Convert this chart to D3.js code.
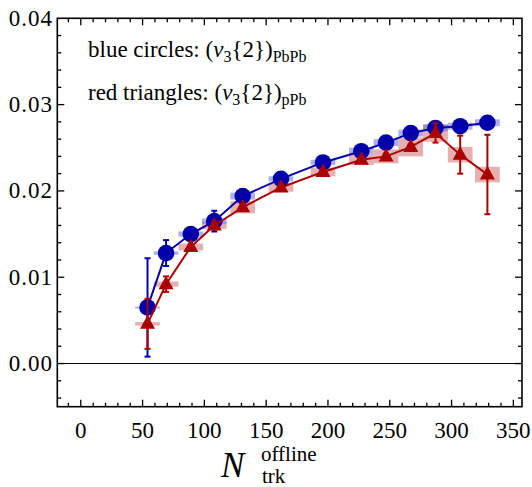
<!DOCTYPE html>
<html><head><meta charset="utf-8">
<script src="https://cdn.jsdelivr.net/npm/d3@7"></script>
</head>
<body style="margin:0">
<svg id="c" width="532" height="487"><style>text, tspan { font-family: 'Liberation Serif', 'Times New Roman', Tinos, FreeSerif !important; }</style></svg>
<script>
// ---- data ----
const nTrk = [54, 69, 89, 108, 131, 162, 196, 227, 247, 267, 287, 307, 329];
const pbpbV3 = [0.0065, 0.0128, 0.0150, 0.0165, 0.0194, 0.0214, 0.0233, 0.0246, 0.0256, 0.0267, 0.0273, 0.0275, 0.0279];
const pbpbStat = [0.0057, 0.0015, 0.0003, 0.0012, 0.0003, 0.0003, 0.0003, 0.0003, 0.0003, 0.0003, 0.0003, 0.0003, 0.0003];
const pbpbSys = [0.0001, 0.0002, 0.0003, 0.0003, 0.0004, 0.0003, 0.0003, 0.0004, 0.0004, 0.0004, 0.0004, 0.0004, 0.0004];
const ppbV3 = [0.0046, 0.0092, 0.0135, 0.0160, 0.0181, 0.0204, 0.0222, 0.0236, 0.0240, 0.0251, 0.0267, 0.0242, 0.0219];
const ppbStat = [0.0029, 0.0009, 0.0003, 0.0003, 0.0003, 0.0003, 0.0003, 0.0003, 0.0003, 0.0003, 0.0011, 0.0022, 0.0046];
const ppbSys = [0.0002, 0.0003, 0.0004, 0.0004, 0.0007, 0.0005, 0.0005, 0.0006, 0.0008, 0.0011, 0.0010, 0.0009, 0.0009];
const xTicks = [0, 50, 100, 150, 200, 250, 300, 350];
const yTicks = [0.00, 0.01, 0.02, 0.03, 0.04];

const FONT = "'Liberation Serif'";
const svg = d3.select("#c");
const L = 57.3, R = 522, T = 18.3, B = 406.7;
const x = d3.scaleLinear().domain([-19, 357]).range([L, R]);
const y = d3.scaleLinear().domain([-0.005, 0.04]).range([B, T]);
const BOXW = 10;
const blue = "#0000aa", red = "#aa0000";

svg.append("line").attr("x1", L).attr("x2", R).attr("y1", y(0)).attr("y2", y(0))
  .attr("stroke", "#000").attr("stroke-width", 1);

function boxes(vals, sys, fill, op) {
  svg.append("g").selectAll("rect").data(nTrk).join("rect")
    .attr("x", d => x(d - BOXW)).attr("width", d => x(d + BOXW) - x(d - BOXW))
    .attr("y", (d, i) => y(vals[i] + sys[i]))
    .attr("height", (d, i) => Math.max(2, y(vals[i] - sys[i]) - y(vals[i] + sys[i])))
    .attr("fill", fill).attr("opacity", op);
}
boxes(ppbV3, ppbSys, "rgb(200,80,80)", 0.45);
boxes(pbpbV3, pbpbSys, "rgb(90,100,220)", 0.5);

function series(vals, stat, color, shape) {
  const g = svg.append("g");
  const line = d3.line().x((d, i) => x(nTrk[i])).y(d => y(d));
  g.append("path").attr("d", line(vals)).attr("fill", "none").attr("stroke", color).attr("stroke-width", 2);
  const eb = g.append("g").attr("stroke", color).attr("stroke-width", 2);
  nTrk.forEach((n, i) => {
    const cx = x(n), y1 = y(vals[i] + stat[i]), y2 = y(vals[i] - stat[i]);
    eb.append("line").attr("x1", cx).attr("x2", cx).attr("y1", y1).attr("y2", y2);
    eb.append("line").attr("x1", cx - 3).attr("x2", cx + 3).attr("y1", y1).attr("y2", y1);
    eb.append("line").attr("x1", cx - 3).attr("x2", cx + 3).attr("y1", y2).attr("y2", y2);
  });
  g.selectAll("path.m").data(vals).join("path").attr("class", "m")
    .attr("transform", (d, i) => `translate(${x(nTrk[i])},${y(d)})`)
    .attr("d", shape).attr("fill", color);
}
series(pbpbV3, pbpbStat, blue, d3.symbol(d3.symbolCircle, 215)());
series(ppbV3, ppbStat, red, "M0,-8.5L7.5,5L-7.5,5Z");

svg.append("rect").attr("x", L).attr("y", T).attr("width", R - L).attr("height", B - T)
  .attr("fill", "none").attr("stroke", "#000").attr("stroke-width", 1.6);

const tk = svg.append("g").attr("stroke", "#000").attr("stroke-width", 1.3);
d3.range(-10, 360, 10).forEach(v => {
  const major = v % 50 === 0, len = major ? 7 : 4, px = x(v);
  tk.append("line").attr("x1", px).attr("x2", px).attr("y1", B).attr("y2", B - len);
  tk.append("line").attr("x1", px).attr("x2", px).attr("y1", T).attr("y2", T + len);
});
d3.range(-4, 40, 2).forEach(k => {
  const v = k / 1000, major = k % 10 === 0, len = major ? 7 : 4, py = y(v);
  tk.append("line").attr("x1", L).attr("x2", L + len).attr("y1", py).attr("y2", py);
  tk.append("line").attr("x1", R).attr("x2", R - len).attr("y1", py).attr("y2", py);
});

svg.append("g").selectAll("text").data(xTicks).join("text")
  .attr("x", d => x(d)).attr("y", 438).attr("text-anchor", "middle")
  .style("font-size", "23px").text(d => d);
svg.append("g").selectAll("text").data(yTicks).join("text")
  .attr("x", 53).attr("y", d => y(d) + 7.5).attr("text-anchor", "end")
  .style("font-size", "23px").style("letter-spacing", "1px")
  .text(d => d3.format(".2f")(d));

const at = svg.append("text").attr("x", 221).attr("y", 477).style("font-size", "35px");
at.append("tspan").style("font-style", "italic").text("N");
at.append("tspan").attr("x", 261).attr("y", 461).style("font-size", "21px").text("offline");
at.append("tspan").attr("x", 262).attr("y", 483).style("font-size", "21px").text("trk");

function legend(yb, label, sub) {
  const t = svg.append("text").attr("x", 88).attr("y", yb).style("font-size", "23px");
  t.append("tspan").text(label + " (");
  t.append("tspan").style("font-style", "italic").text("v");
  t.append("tspan").attr("dy", 5).style("font-size", "16px").text("3");
  t.append("tspan").attr("dy", -5).text("{2})");
  t.append("tspan").attr("dy", 5).style("font-size", "16px").text(sub);
}
legend(57, "blue circles:", "PbPb");
legend(100, "red triangles:", "pPb");

function applyFont() {
  svg.selectAll("text, tspan").each(function () {
    this.style.setProperty("font-family", FONT, "important");
  });
}
applyFont();
setTimeout(applyFont, 0);
requestAnimationFrame(applyFont);
</script></body></html>
